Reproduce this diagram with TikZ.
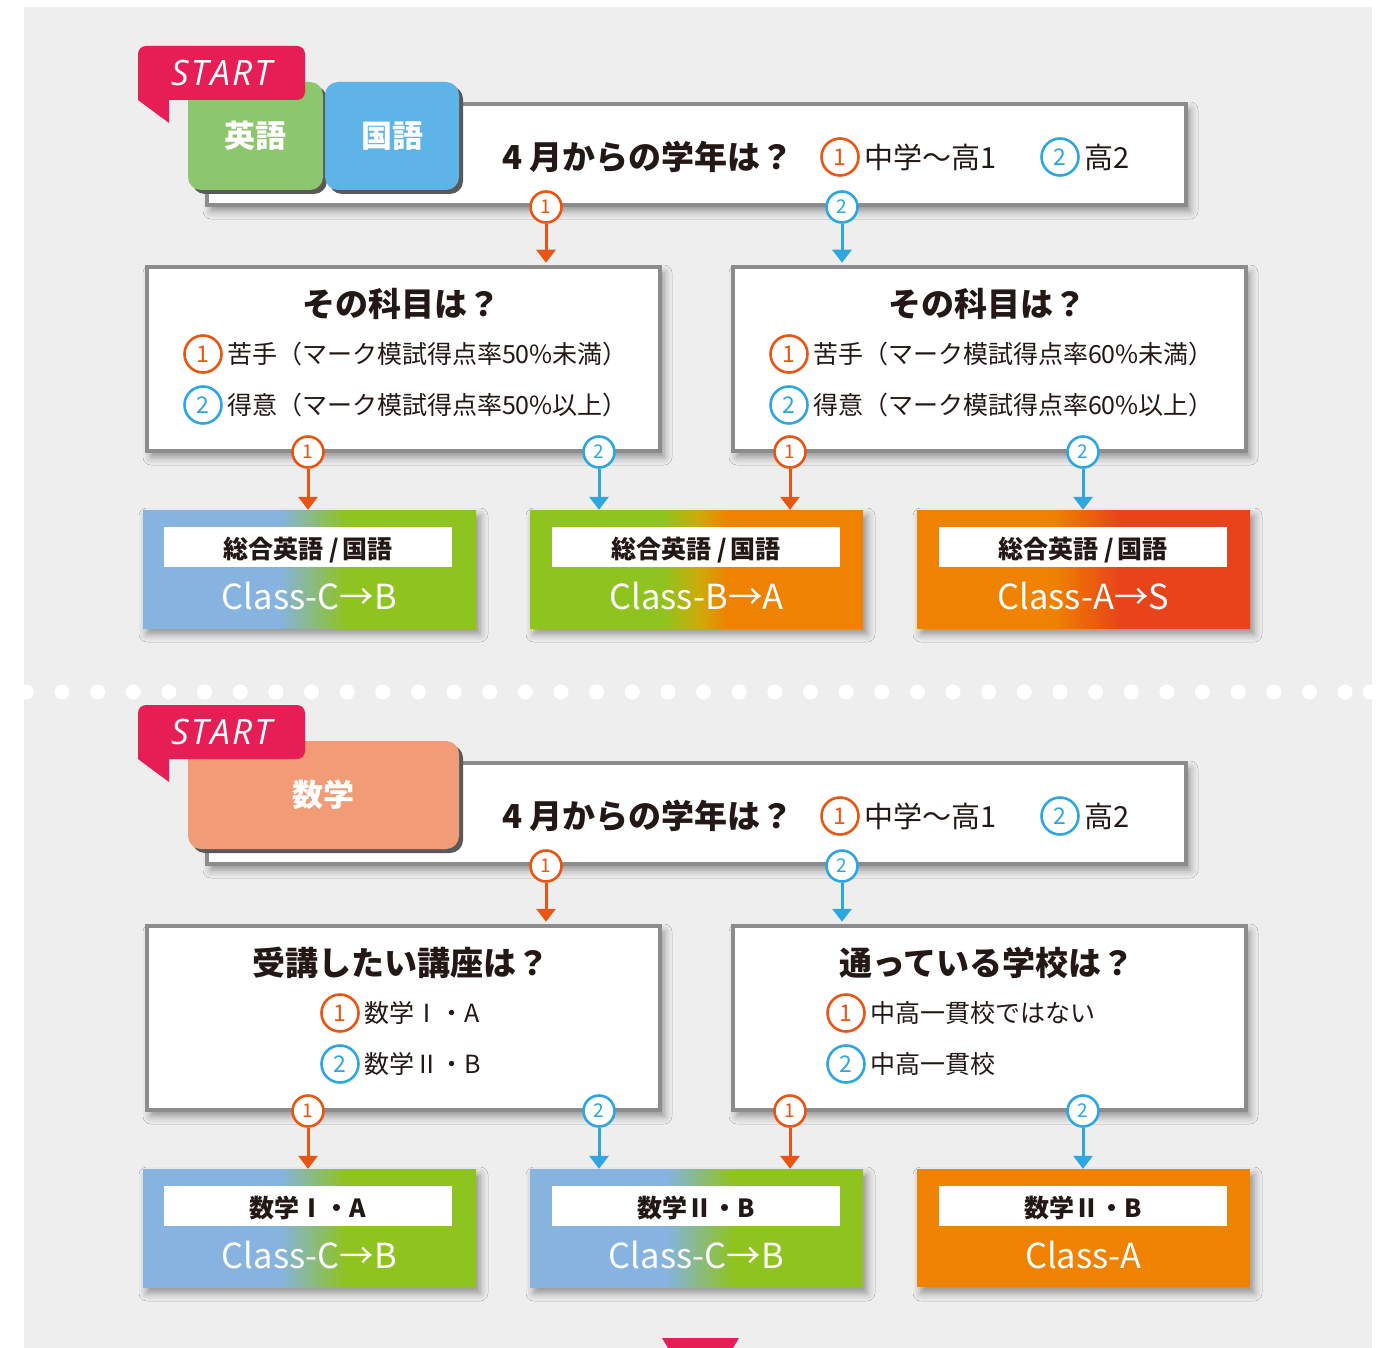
\documentclass[tikz,border=0pt]{standalone}
\usepackage{fontspec}
\newfontfamily\jp{Noto Sans CJK JP}
\newfontfamily\startfont{Open Sans}[LetterSpace=6]
\usepackage{xcolor}
\usetikzlibrary{arrows.meta,positioning,shadows,shadows.blur}

\definecolor{bggray}{HTML}{EEEEEE}
\definecolor{framegray}{HTML}{8C8C8C}
\definecolor{startred}{HTML}{E61E55}
\definecolor{engreen}{HTML}{8CC66D}
\definecolor{jablue}{HTML}{5EB4E6}
\definecolor{mathpink}{HTML}{F29B77}
\definecolor{oneorange}{HTML}{E95513}
\definecolor{twoblue}{HTML}{2EA7E0}
\definecolor{clblue}{HTML}{86B3E0}
\definecolor{clgreen}{HTML}{8FC31F}
\definecolor{clorange}{HTML}{EF8200}
\definecolor{clred}{HTML}{E8431A}
\definecolor{midyellow}{HTML}{CFAA0A}
\definecolor{inkblack}{HTML}{231815}

\pgfdeclarehorizontalshading{classCB}{100bp}{color(0bp)=(clblue); color(45.5bp)=(clblue); color(55.5bp)=(clgreen); color(100bp)=(clgreen)}
\pgfdeclarehorizontalshading{classBA}{100bp}{color(0bp)=(clgreen); color(45bp)=(clgreen); color(50.5bp)=(midyellow); color(54.5bp)=(clorange); color(100bp)=(clorange)}
\pgfdeclarehorizontalshading{classAS}{100bp}{color(0bp)=(clorange); color(45.5bp)=(clorange); color(55.5bp)=(clred); color(100bp)=(clred)}

\tikzset{
  qbox/.style={draw=framegray, line width=4.5pt, fill=white,
    blur shadow={shadow xshift=4pt, shadow yshift=-6pt, shadow blur radius=8pt, shadow opacity=40}},
  tab/.style={rounded corners=13pt, minimum height=108pt, inner sep=0pt, text=white,
    font=\jp\bfseries\fontsize{31}{31}\selectfont,
    drop shadow={shadow xshift=4pt, shadow yshift=-4pt, fill=black!65, opacity=1}},
  starttag/.style={fill=startred, rounded corners=8pt, minimum width=167pt, minimum height=54pt,
    inner sep=0pt, text=white, font=\startfont\itshape\fontsize{35}{35}\selectfont},
  asktext/.style={anchor=west, inner sep=0pt, text=inkblack, font=\jp\bfseries\fontsize{33}{33}\selectfont},
  title/.style={inner sep=0pt, text=inkblack, font=\jp\bfseries\fontsize{33}{33}\selectfont},
  opttext/.style={inner sep=0pt, text=inkblack, font=\jp\fontsize{25}{25}\selectfont},
  opt/.style={circle, line width=2.6pt, fill=white, inner sep=0pt, minimum size=37pt,
    font=\jp\fontsize{23}{23}\selectfont},
  optone/.style={opt, draw=oneorange, text=oneorange},
  opttwo/.style={opt, draw=twoblue, text=twoblue},
  link/.style={circle, line width=2.6pt, fill=white, inner sep=0pt, minimum size=31pt,
    font=\jp\fontsize{19}{19}\selectfont},
  linkone/.style={link, draw=oneorange, text=oneorange},
  linktwo/.style={link, draw=twoblue, text=twoblue},
  arrone/.style={draw=oneorange, line width=3pt, -{Triangle[width=19pt,length=13pt]}},
  arrtwo/.style={draw=twoblue, line width=3pt, -{Triangle[width=19pt,length=13pt]}},
  result/.style={minimum width=333pt, minimum height=118pt, inner sep=0pt,
    blur shadow={shadow xshift=4pt, shadow yshift=-6pt, shadow blur radius=8pt, shadow opacity=40}},
  subject/.style={fill=white, minimum width=288pt, minimum height=40pt, inner sep=0pt,
    text height=25pt, text depth=2pt,
    text=inkblack, font=\jp\bfseries\fontsize{25}{25}\selectfont},
  classname/.style={inner sep=0pt, text=white, font=\jp\fontsize{34.5}{34.5}\selectfont}
}

\begin{document}
\begin{tikzpicture}[x=1pt,y=-1pt]
\useasboundingbox (0,0) rectangle (1389,1348);
\fill[white] (0,0) rectangle (1389,1348);
\fill[bggray] (24,7) rectangle (1372,1348);

% dotted separator
\foreach \i in {0,...,37}
  \fill[white] (26.4+35.64*\i,692) circle (7.5pt);
\fill[white] (1370,692) circle (7.5pt);

% ===== English / Japanese =====
\node[qbox, minimum width=979pt, minimum height=101pt] (ask) at (696.5,154.5) {};
\node[tab, fill=engreen, minimum width=135pt] (eng) at (255.5,136) {英語};
\node[tab, fill=jablue, minimum width=134pt] (kok) at (392,136) {国語};
\node[starttag] (start) at (221.5,73) {START};
\fill[startred] (138,90) -- (138,100) -- (169,123) -- (169,90) -- cycle;

\node[asktext] (askt) at (502,157) {4 月からの学年は？};
\node[optone] (a1) at (840,157) {1};
\node[opttext, font=\jp\fontsize{29}{29}\selectfont, right=4pt of a1] (a1t) {中学〜高1};
\node[opttwo] (a2) at (1060,157) {2};
\node[opttext, font=\jp\fontsize{29}{29}\selectfont, right=4pt of a2] (a2t) {高2};

\node[qbox, minimum width=513pt, minimum height=184pt] (low) at (403.5,359) {};
\node[qbox, minimum width=513pt, minimum height=184pt] (high) at (989.5,359) {};

\node[title] (lowt) at (401,304) {その科目は？};
\node[optone] (low1) at (203,354) {1};
\node[opttext, right=4pt of low1] (low1t) {苦手（マーク模試得点率50\%未満）};
\node[opttwo] (low2) at (203,405) {2};
\node[opttext, right=4pt of low2] (low2t) {得意（マーク模試得点率50\%以上）};

\node[title] (hight) at (987,304) {その科目は？};
\node[optone] (high1) at (789,354) {1};
\node[opttext, right=4pt of high1] (high1t) {苦手（マーク模試得点率60\%未満）};
\node[opttwo] (high2) at (789,405) {2};
\node[opttext, right=4pt of high2] (high2t) {得意（マーク模試得点率60\%以上）};

\node[result, shading=classCB] (r1) at (309.5,569) {};
\node[result, shading=classBA] (r2) at (696.5,569) {};
\node[result, shading=classAS] (r3) at (1083.5,569) {};
\node[subject] (r1s) at (308,547) {総合英語\hspace{6pt}/\hspace{3pt}国語};
\node[subject] (r2s) at (696,547) {総合英語\hspace{6pt}/\hspace{3pt}国語};
\node[subject] (r3s) at (1083,547) {総合英語\hspace{6pt}/\hspace{3pt}国語};
\node[classname] (r1c) at (309.5,596) {Class-C→B};
\node[classname] (r2c) at (696.5,596) {Class-B→A};
\node[classname] (r3c) at (1083.5,596) {Class-A→S};

\node[linkone] (l1) at (546,207) {1};
\node[linktwo] (l2) at (842,207) {2};
\node[linkone] (l3) at (308,452) {1};
\node[linktwo] (l4) at (599,452) {2};
\node[linkone] (l5) at (790,452) {1};
\node[linktwo] (l6) at (1083,452) {2};

\draw[arrone] (l1) -- ([yshift=2pt]l1 |- low.north);
\draw[arrtwo] (l2) -- ([yshift=2pt]l2 |- high.north);
\draw[arrone] (l3) -- (l3 |- r1.north);
\draw[arrtwo] (l4) -- (l4 |- r2.north);
\draw[arrone] (l5) -- (l5 |- r2.north);
\draw[arrtwo] (l6) -- (l6 |- r3.north);

% ===== Mathematics =====
\begin{scope}[yshift=-659pt]
\node[qbox, minimum width=979pt, minimum height=101pt] (mask) at (696.5,154.5) {};
\node[tab, fill=mathpink, minimum width=271pt] (math) at (323.5,136) {数学};
\node[starttag] (mstart) at (221.5,73) {START};
\fill[startred] (138,90) -- (138,100) -- (169,123) -- (169,90) -- cycle;

\node[asktext] (maskt) at (502,157) {4 月からの学年は？};
\node[optone] (ma1) at (840,157) {1};
\node[opttext, font=\jp\fontsize{29}{29}\selectfont, right=4pt of ma1] (ma1t) {中学〜高1};
\node[opttwo] (ma2) at (1060,157) {2};
\node[opttext, font=\jp\fontsize{29}{29}\selectfont, right=4pt of ma2] (ma2t) {高2};

\node[qbox, minimum width=513pt, minimum height=184pt] (mlow) at (403.5,359) {};
\node[qbox, minimum width=513pt, minimum height=184pt] (mhigh) at (989.5,359) {};

\node[title] (mlowt) at (401,304) {受講したい講座は？};
\node[optone] (mlow1) at (340,354) {1};
\node[opttext, right=4pt of mlow1] (mlow1t) {数学Ⅰ・A};
\node[opttwo] (mlow2) at (340,405) {2};
\node[opttext, right=4pt of mlow2] (mlow2t) {数学Ⅱ・B};

\node[title] (mhight) at (987,304) {通っている学校は？};
\node[optone] (mhigh1) at (846,354) {1};
\node[opttext, right=4pt of mhigh1] (mhigh1t) {中高一貫校ではない};
\node[opttwo] (mhigh2) at (846,405) {2};
\node[opttext, right=4pt of mhigh2] (mhigh2t) {中高一貫校};

\node[result, shading=classCB] (m1) at (309.5,569) {};
\node[result, shading=classCB] (m2) at (696.5,569) {};
\node[result, fill=clorange] (m3) at (1083.5,569) {};
\node[subject] (m1s) at (308,547) {数学Ⅰ・A};
\node[subject] (m2s) at (696,547) {数学Ⅱ・B};
\node[subject] (m3s) at (1083,547) {数学Ⅱ・B};
\node[classname] (m1c) at (309.5,596) {Class-C→B};
\node[classname] (m2c) at (696.5,596) {Class-C→B};
\node[classname] (m3c) at (1083.5,596) {Class-A};

\node[linkone] (ml1) at (546,207) {1};
\node[linktwo] (ml2) at (842,207) {2};
\node[linkone] (ml3) at (308,452) {1};
\node[linktwo] (ml4) at (599,452) {2};
\node[linkone] (ml5) at (790,452) {1};
\node[linktwo] (ml6) at (1083,452) {2};

\draw[arrone] (ml1) -- ([yshift=2pt]ml1 |- mlow.north);
\draw[arrtwo] (ml2) -- ([yshift=2pt]ml2 |- mhigh.north);
\draw[arrone] (ml3) -- (ml3 |- m1.north);
\draw[arrtwo] (ml4) -- (ml4 |- m2.north);
\draw[arrone] (ml5) -- (ml5 |- m2.north);
\draw[arrtwo] (ml6) -- (ml6 |- m3.north);
\end{scope}

% continues below
\fill[startred] (662,1338) -- (739,1338) -- (733,1348) -- (668,1348) -- cycle;
\end{tikzpicture}
\end{document}
